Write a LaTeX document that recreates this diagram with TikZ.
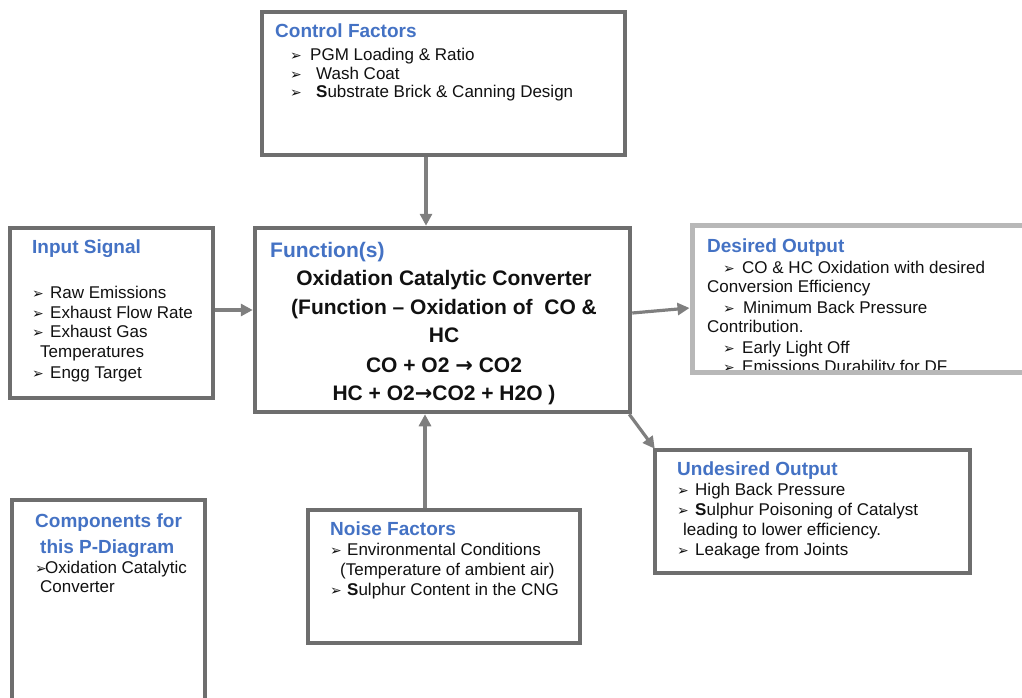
\documentclass[tikz,border=0pt]{standalone}
\usepackage{fontspec}
\setmainfont{Liberation Sans}
\newfontfamily\dejavu{DejaVu Sans}
\usetikzlibrary{arrows.meta}
\definecolor{titleblue}{HTML}{4472C4}
\definecolor{bord}{HTML}{6E6E6E}
\definecolor{lbord}{HTML}{B8B8B8}
\definecolor{arrc}{HTML}{7F7F7F}
\definecolor{bodyc}{HTML}{111111}
\newcommand\bu{{\dejavu\fontsize{14}{14}\selectfont\char"27A2}}
\newcommand\bl[1]{\makebox[#1][l]{\bu}}
\newcommand\rar{{\dejavu\bfseries →}}
\begin{document}
\begin{tikzpicture}[x=1pt,y=-1pt,
  box/.style={draw=bord,line width=4.5pt,fill=white,inner sep=0pt},
  lbox/.style={draw=lbord,line width=5pt,fill=white,inner sep=0pt},
  conn/.style={draw=arrc,line width=3.2pt,-{Triangle[length=12pt,width=12pt]}},
  ttl/.style={anchor=base west,inner sep=0pt,text=titleblue,font=\fontsize{19}{19}\selectfont\bfseries},
  bt/.style={anchor=base west,inner sep=0pt,text=bodyc,font=\fontsize{17}{17}\selectfont},
  ftl/.style={anchor=base west,inner sep=0pt,text=titleblue,font=\fontsize{21}{21}\selectfont\bfseries},
  ft/.style={anchor=base,inner sep=0pt,text=bodyc,font=\fontsize{21}{21}\selectfont\bfseries}
]
\useasboundingbox (0,0) rectangle (1022,698);
\clip (0,0) rectangle (1022,698);

% boxes
\node[box,minimum width=363pt,minimum height=143pt] (ctrl) at (443.5,83.5) {};
\node[box,minimum width=203pt,minimum height=170pt] (input) at (111.5,313) {};
\node[box,minimum width=375pt,minimum height=184pt] (func) at (442.5,320) {};
\node[lbox,minimum width=338pt,minimum height=147pt] (des) at (861,298.5) {};
\node[box,minimum width=315pt,minimum height=123pt] (und) at (812.5,511.5) {};
\node[box,minimum width=272pt,minimum height=133pt] (noise) at (444,576.5) {};
\node[box,minimum width=193pt,minimum height=210pt] (comp) at (108.5,605) {};

% connectors
\draw[conn] ([xshift=-17.5pt]ctrl.south) -- ([xshift=-16.5pt]func.north);
\draw[conn] ([yshift=3pt]input.east) -- ([yshift=3pt]input.east -| func.west);
\draw[conn] ([yshift=7pt]func.east) -- ([yshift=-9.5pt]des.west);
\draw[conn] ([xshift=-3pt]func.south east) -- ([xshift=2pt,yshift=-1pt]und.north west);
\draw[conn] ([xshift=-19pt]noise.north) -- ([xshift=-17.5pt]func.south);

% Control Factors
\node[ttl] (c0) at (275,38) {Control Factors};
\node[bt] (c1) at (290,61) {\bl{20pt}PGM Loading \& Ratio};
\node[bt] (c2) at (290,80) {\bl{26pt}Wash Coat};
\node[bt] (c3) at (290,98) {\bl{26pt}\textbf{S}ubstrate Brick \& Canning Design};

% Input Signal
\node[ttl] (i0) at (32,253) {Input Signal};
\node[bt] (i1) at (32,298) {\bl{18pt}Raw Emissions};
\node[bt] (i2) at (32,318) {\bl{18pt}Exhaust Flow Rate};
\node[bt] (i3) at (32,337) {\bl{18pt}Exhaust Gas};
\node[bt] (i4) at (40,357) {Temperatures};
\node[bt] (i5) at (32,378) {\bl{18pt}Engg Target};

% Function(s)
\node[ftl] (f0) at (270,257) {Function(s)};
\node[ft] (f1) at (444,285) {Oxidation Catalytic Converter};
\node[ft] (f2) at (444,314) {(Function -- Oxidation of\ \ CO \&};
\node[ft] (f3) at (444,342) {HC};
\node[ft] (f4) at (444,372) {CO + O2 \rar{} CO2};
\node[ft] (f5) at (444,400) {HC + O2\rar{}CO2 + H2O )};

% Desired Output
\begin{scope}
\clip (694.5,227.5) rectangle (1022,369.5);
\node[ttl] (d0) at (707,252) {Desired Output};
\node[bt] (d1) at (723,273) {\bl{19pt}CO \& HC Oxidation with desired};
\node[bt] (d2) at (707,292) {Conversion Efficiency};
\node[bt] (d3) at (723,313) {\bl{20pt}Minimum Back Pressure};
\node[bt] (d4) at (707,332) {Contribution.};
\node[bt] (d5) at (723,353) {\bl{19pt}Early Light Off};
\node[bt] (d6) at (723,372) {\bl{19pt}Emissions Durability for DF};
\end{scope}

% Undesired Output
\node[ttl] (u0) at (677,475) {Undesired Output};
\node[bt] (u1) at (677,495) {\bl{18pt}High Back Pressure};
\node[bt] (u2) at (677,515) {\bl{18pt}\textbf{S}ulphur Poisoning of Catalyst};
\node[bt] (u3) at (683,535) {leading to lower efficiency.};
\node[bt] (u4) at (677,555) {\bl{18pt}Leakage from Joints};

% Noise Factors
\node[ttl] (n0) at (330,535) {Noise Factors};
\node[bt] (n1) at (330,555) {\bl{17pt}Environmental Conditions};
\node[bt] (n2) at (340,575) {(Temperature of ambient air)};
\node[bt] (n3) at (330,595) {\bl{17pt}\textbf{S}ulphur Content in the CNG};

% Components
\node[ttl] (p0) at (35,527) {Components for};
\node[ttl] (p1) at (40,553) {this P-Diagram};
\node[bt] (p2) at (35,573) {\bl{10pt}Oxidation Catalytic};
\node[bt] (p3) at (40,592) {Converter};
\end{tikzpicture}
\end{document}
